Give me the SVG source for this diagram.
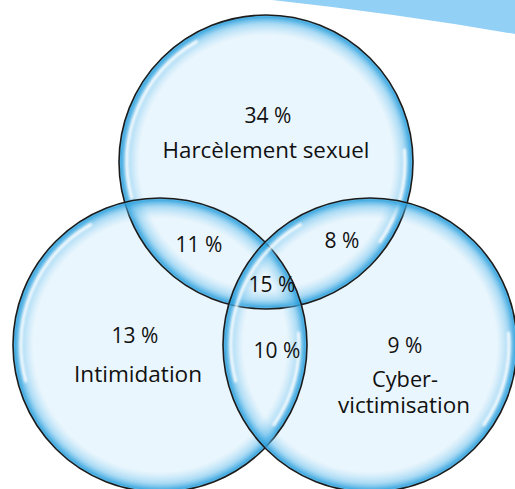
<svg xmlns="http://www.w3.org/2000/svg" width="515" height="489" viewBox="0 0 515 489">
<style>
.base{fill:#eaf6fd}
.rim{fill:url(#rimGrad)}
.edge{fill:none;stroke:#1c1c1c;stroke-width:1.6}
.hl{fill:none;stroke:#ffffff;stroke-width:3;stroke-linecap:round;opacity:0.9;filter:url(#soft)}
text{font-family:"Open Sans","Noto Sans","Liberation Sans",sans-serif;font-size:21px;fill:#111;text-anchor:middle}
</style>
<defs>
<radialGradient id="rimGrad" cx="0.5" cy="0.5" r="0.5">
<stop offset="0" stop-color="#bfe4f8" stop-opacity="0"/>
<stop offset="0.86" stop-color="#8fd0f2" stop-opacity="0"/>
<stop offset="0.94" stop-color="#5cb9ea" stop-opacity="0.45"/>
<stop offset="0.985" stop-color="#2a9fdc" stop-opacity="0.85"/>
<stop offset="1" stop-color="#5fbbea" stop-opacity="0.9"/>
</radialGradient>
<filter id="soft" x="-20%" y="-20%" width="140%" height="140%"><feGaussianBlur stdDeviation="0.8"/></filter>
<path id="hlL" d="M -134.3 36 A 139 139 0 0 1 -69.5 -120.4"/>
<path id="hlR" d="M 138.5 -12.1 A 139 139 0 0 1 113.9 79.7"/>
</defs>
<rect width="515" height="489" fill="#ffffff"/>
<path d="M 272 0 L 515 0 L 515 34 Q 400 14 272 0 Z" fill="#93d0f6"/>
<g id="bases">
<circle class="base" cx="266" cy="162" r="147"/>
<circle class="base" cx="160" cy="345" r="147"/>
<circle class="base" cx="370" cy="345" r="147"/>
</g>
<g id="node-harcelement">
<circle class="rim" cx="266" cy="162" r="147"/>
<circle class="edge" cx="266" cy="162" r="147"/>
<use href="#hlL" class="hl" transform="translate(266 162)"/>
<use href="#hlR" class="hl" transform="translate(266 162)"/>
<text x="268" y="123">34 %</text>
<text x="266" y="158" textLength="207" lengthAdjust="spacingAndGlyphs">Harcèlement sexuel</text>
</g>
<g id="node-intimidation">
<circle class="rim" cx="160" cy="345" r="147"/>
<circle class="edge" cx="160" cy="345" r="147"/>
<use href="#hlL" class="hl" transform="translate(160 345)"/>
<use href="#hlR" class="hl" transform="translate(160 345)"/>
<text x="135" y="343">13 %</text>
<text x="138" y="382" textLength="128" lengthAdjust="spacingAndGlyphs">Intimidation</text>
</g>
<g id="node-cyber">
<circle class="rim" cx="370" cy="345" r="147"/>
<circle class="edge" cx="370" cy="345" r="147"/>
<use href="#hlL" class="hl" transform="translate(370 345)"/>
<use href="#hlR" class="hl" transform="translate(370 345)"/>
<text x="405" y="353">9 %</text>
<text x="405" y="387" textLength="66" lengthAdjust="spacingAndGlyphs">Cyber-</text>
<text x="404" y="413" textLength="132" lengthAdjust="spacingAndGlyphs">victimisation</text>
</g>
<g id="overlap-labels">
<text x="199" y="252">11 %</text>
<text x="342" y="248">8 %</text>
<text x="272" y="292">15 %</text>
<text x="277" y="358">10 %</text>
</g>
</svg>
